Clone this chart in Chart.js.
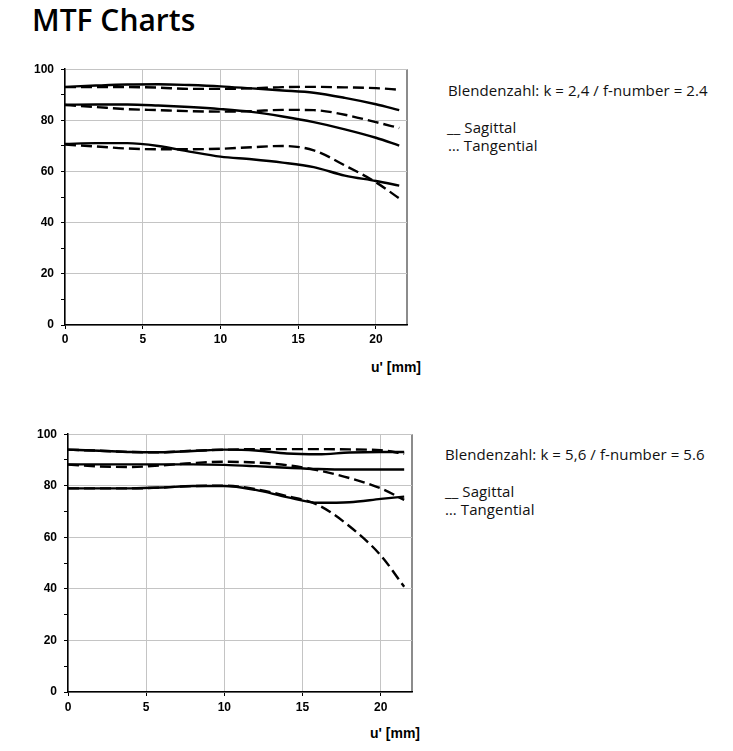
<!DOCTYPE html>
<html>
<head>
<meta charset="utf-8">
<script src="https://cdn.jsdelivr.net/npm/chart.js@4.4.1/dist/chart.umd.min.js"></script>
<style>
  body { margin: 0; background: #fff; width: 733px; height: 751px; position: relative; overflow: hidden; font-family: "Open Sans", sans-serif; color: #111; }
  h1 { position: absolute; left: 32px; top: 5px; margin: 0; font-size: 30px; font-weight: 600; line-height: 1; color: #000; }
  canvas { position: absolute; left: 0; }
  .note { position: absolute; font-size: 15px; line-height: 1; white-space: nowrap; letter-spacing: 0.1px; }
  .unit { position: absolute; font: bold 14px "Liberation Sans", Arial, sans-serif; line-height: 1; color: #000; }
</style>
</head>
<body>
<h1>MTF Charts</h1>

<canvas id="mtf24" width="440" height="300" style="top:55px"></canvas>
<div class="unit" style="left:371px; top:360px">u' [mm]</div>
<div class="note" style="left:448px; top:83px">Blendenzahl: k = 2,4 / f-number = 2.4</div>
<div class="note" style="left:447px; top:120px">__ Sagittal</div>
<div class="note" style="left:448px; top:138px">… Tangential</div>

<canvas id="mtf56" width="440" height="300" style="top:420px"></canvas>
<div class="unit" style="left:370px; top:726px">u' [mm]</div>
<div class="note" style="left:445px; top:447px">Blendenzahl: k = 5,6 / f-number = 5.6</div>
<div class="note" style="left:445px; top:484px">__ Sagittal</div>
<div class="note" style="left:445px; top:502px">… Tangential</div>

<script>
// image height u' in mm
const xPositions = [0, 2, 4, 6, 8, 10, 12, 14, 16, 18, 20, 21.5];
const xTickLabels = [0, 5, 10, 15, 20];

// k = 2.4
const k24SagTop = [93.1, 93.6, 94.0, 94.1, 93.8, 93.3, 92.5, 91.7, 90.8, 88.8, 86.3, 84.0];
const k24TanTop = [93.0, 93.0, 93.0, 92.8, 92.3, 92.3, 92.5, 93.0, 93.1, 92.9, 92.6, 92.0];
const k24SagMid = [86.1, 86.2, 86.2, 85.8, 85.2, 84.4, 83.3, 81.5, 79.3, 76.5, 73.2, 70.1];
const k24TanMid = [86.0, 85.2, 84.4, 84.0, 83.6, 83.4, 83.6, 84.1, 84.0, 82.2, 79.3, 77.0];
const k24SagLow = [70.8, 71.1, 71.1, 70.0, 67.8, 65.8, 64.8, 63.5, 61.7, 58.4, 56.3, 54.5];
const k24TanLow = [70.5, 69.8, 69.0, 68.7, 68.7, 68.9, 69.5, 70.0, 68.3, 62.4, 55.8, 49.5];

// k = 5.6
const k56SagTop = [94.0, 93.6, 93.1, 93.0, 93.5, 94.0, 93.7, 92.5, 92.2, 92.9, 93.1, 93.1];
const k56TanTop = [94.0, 93.6, 93.1, 93.0, 93.6, 94.0, 94.2, 94.2, 94.2, 94.1, 93.8, 92.4];
const k56SagMid = [88.3, 88.3, 88.3, 88.3, 88.3, 88.1, 87.6, 87.0, 86.5, 86.3, 86.3, 86.3];
const k56TanMid = [88.2, 87.5, 87.3, 87.9, 88.8, 89.3, 89.0, 88.0, 86.0, 83.0, 79.0, 74.5];
const k56SagLow = [79.0, 79.0, 79.0, 79.3, 79.9, 79.9, 78.4, 75.6, 73.4, 73.6, 74.9, 75.8];
const k56TanLow = [79.0, 79.0, 79.0, 79.3, 79.9, 80.0, 78.7, 76.0, 72.5, 64.3, 53.0, 40.8];

const tickFont = { family: "Liberation Sans", weight: "bold", size: 12 };

function line(values, dashed) {
  return {
    data: xPositions.map((x, i) => ({ x: x, y: values[i] })),
    borderColor: "#000",
    borderWidth: 2.4,
    borderDash: dashed ? [11, 5] : [],
    pointRadius: 0,
    cubicInterpolationMode: "monotone",
    fill: false,
  };
}

// geo: plot area offsets inside the canvas
function mtfChart(id, sets, geo) {
  return new Chart(document.getElementById(id), {
    type: "line",
    data: { datasets: sets },
    options: {
      responsive: false,
      animation: false,
      layout: { padding: { top: geo.top, right: geo.right, left: 0, bottom: 0 } },
      plugins: { legend: { display: false }, tooltip: { enabled: false } },
      scales: {
        x: {
          type: "linear",
          min: 0,
          max: 22,
          afterFit: (s) => { s.height = geo.xh; },
          afterBuildTicks: (s) => { s.ticks = xTickLabels.concat([22]).map((v) => ({ value: v })); },
          ticks: {
            autoSkip: false,
            maxRotation: 0,
            padding: geo.xpad,
            color: "#000",
            font: tickFont,
            callback: (v) => (xTickLabels.includes(v) ? v : ""),
          },
          grid: {
            color: (c) => (c.tick && c.tick.value === 22 ? "#8c8c8c" : "#c4c4c4"),
            lineWidth: (c) => (c.tick && c.tick.value === 22 ? 2 : 1),
            tickColor: (c) => (c.tick && c.tick.value === 22 ? "transparent" : "#000"),
            tickLength: 4,
          },
          border: { color: "#000", width: 1.5 },
        },
        y: {
          min: 0,
          max: 100,
          afterFit: (s) => { s.width = geo.yw; },
          ticks: {
            stepSize: 10,
            padding: 7,
            color: "#000",
            font: tickFont,
            callback: (v) => (v % 20 === 0 ? v : ""),
          },
          grid: {
            color: (c) => (c.tick && c.tick.value % 20 === 0 ? "#c4c4c4" : "transparent"),
            tickColor: "#000",
            tickLength: 4,
          },
          border: { color: "#000", width: 1.5 },
        },
      },
    },
  });
}

mtfChart("mtf24", [
  line(k24SagTop, false), line(k24TanTop, true),
  line(k24SagMid, false), line(k24TanMid, true),
  line(k24SagLow, false), line(k24TanLow, true),
], { top: 13, right: 33, yw: 65, xh: 30, xpad: 3 });

mtfChart("mtf56", [
  line(k56SagTop, false), line(k56TanTop, true),
  line(k56SagMid, false), line(k56TanMid, true),
  line(k56SagLow, false), line(k56TanLow, true),
], { top: 10, right: 28, yw: 68, xh: 28, xpad: 4 });
</script>
</body>
</html>
